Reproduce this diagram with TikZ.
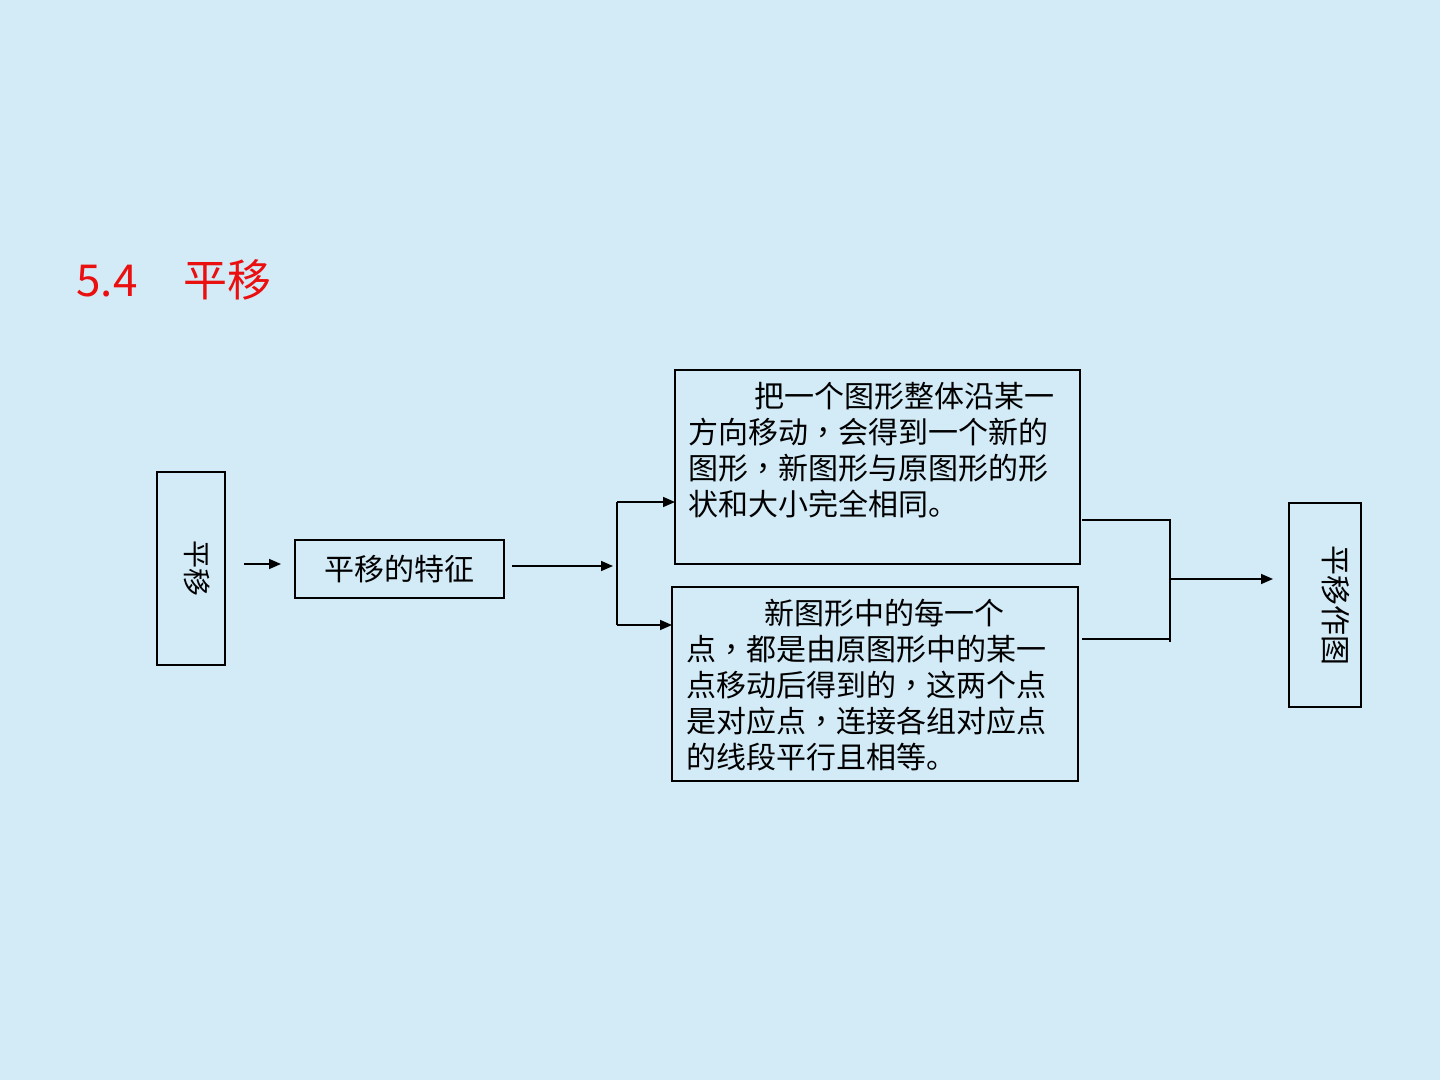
\documentclass[tikz,border=0pt]{standalone}
\usepackage{fontspec}
\setmainfont{Noto Sans CJK SC}
\newfontfamily\tcfont{Noto Sans CJK TC}
\newcommand{\cm}{{\tcfont ，}}
\usetikzlibrary{arrows.meta}
\definecolor{bg}{RGB}{210,235,247}
\definecolor{titlered}{RGB}{235,16,16}
\begin{document}
\begin{tikzpicture}[x=0.5pt,y=-0.5pt,
  box/.style={draw=black, line width=0.8pt, inner sep=0pt},
  arr/.style={-{Triangle[length=6pt,width=5pt]}, line width=0.8pt},
  ln/.style={line width=0.8pt},
  body/.style={font=\fontsize{15}{18}\selectfont, align=left, inner sep=0pt, anchor=north west},
  vtext/.style={rotate=-90, inner sep=0pt},
]
\fill[bg] (0,0) rectangle (1440,1080);
\useasboundingbox (0,0) rectangle (1440,1080);

% title
\node[anchor=base west, inner sep=0pt, text=titlered, font=\fontsize{22}{26}\selectfont] (title) at (76,297) {5.4\hspace{23pt}平移};

% boxes
\node[box, minimum width=34pt, minimum height=96.5pt] (a) at (191,568.5) {};
\node[vtext, font=\fontsize{14}{16}\selectfont] (at) at (197,568) {平移};

\node[box, minimum width=104.5pt, minimum height=29pt, font=\fontsize{15}{18}\selectfont] (b) at (399.5,569) {平移的特征};

\node[box, minimum width=202.5pt, minimum height=97pt] (t) at (877.5,467) {};
\node[body] (tt) at (688,382) {\hspace{2.2em}把一个图形整体沿某一\\方向移动\cm 会得到一个新的\\图形\cm 新图形与原图形的形\\状和大小完全相同。};

\node[box, minimum width=203pt, minimum height=97pt] (u) at (875,684) {};
\node[body] (ut) at (686,599) {\hspace{2.6em}新图形中的每一个\\点\cm 都是由原图形中的某一\\点移动后得到的\cm 这两个点\\是对应点\cm 连接各组对应点\\的线段平行且相等。};

\node[box, minimum width=36pt, minimum height=102pt] (r) at (1325,605) {};
\node[vtext, font=\fontsize{15}{18}\selectfont] (rt) at (1336,605) {平移作图};

% connectors
\coordinate (a1) at (244,564);
\coordinate (a2) at (281,564);
\draw[arr] (a1) -- (a2);

\coordinate (b1) at (512,566);
\coordinate (b2) at (613,566);
\draw[arr] (b1) -- (b2);

\coordinate (c0) at (617,502);
\coordinate (c1) at (675,502);
\coordinate (c2) at (617,625);
\coordinate (c3) at (672,625);
\draw[ln] (c0) -- (c2);
\draw[arr] (c0) -- (c1);
\draw[arr] (c2) -- (c3);

\coordinate (d0) at (1082,520);
\coordinate (d1) at (1170,520);
\coordinate (d2) at (1082,639);
\coordinate (d3) at (1170,639);
\coordinate (d4) at (1170,642);
\coordinate (e0) at (1171,579);
\coordinate (e1) at (1273,579);
\draw[ln] (d0) -- (d1) -- (d4);
\draw[ln] (d2) -- (d3);
\draw[arr] (e0) -- (e1);
\end{tikzpicture}
\end{document}
